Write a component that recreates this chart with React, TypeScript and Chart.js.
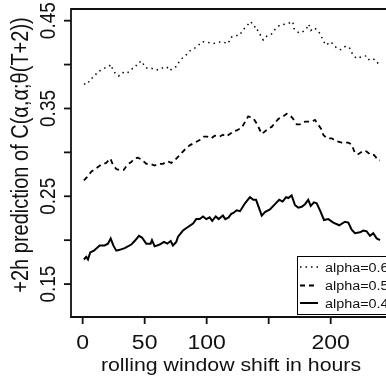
import React, { useEffect, useRef } from "react";
import { Chart, registerables } from "chart.js";

Chart.register(...registerables);

// Rolling predictions, alpha = 0.6 (dotted)
const dotHours = [1.0, 4.3, 5.6, 9.1, 12.3, 15.6, 19.0, 21.0, 23.1, 24.4, 27.1, 29.0, 31.9, 35.7, 39.2, 41.9, 44.6, 47.8, 49.2, 51.0, 55.3, 58.1, 61.5, 65.3, 68.0, 70.2, 72.8, 76.0, 77.7, 80.1, 83.5, 86.8, 90.6, 94.0, 96.0, 98.6, 101.9, 105.3, 108.5, 111.5, 114.8, 117.4, 119.4, 123.6, 126.3, 129.0, 132.3, 135.5, 138.1, 140.3, 141.6, 143.8, 145.6, 148.9, 152.4, 155.6, 159.1, 163.1, 166.1, 169.4, 170.4, 173.1, 176.0, 180.1, 182.3, 184.1, 186.5, 189.5, 191.9, 194.0, 196.2, 200.0, 202.7, 205.3, 208.3, 212.1, 216.1, 217.7, 221.0, 225.0, 229.0, 231.1, 235.7, 239.5];
const dotValues = [0.378, 0.378, 0.383, 0.386, 0.392, 0.394, 0.397, 0.398, 0.4, 0.393, 0.389, 0.387, 0.391, 0.39, 0.395, 0.396, 0.402, 0.404, 0.4, 0.396, 0.396, 0.394, 0.394, 0.397, 0.397, 0.393, 0.396, 0.398, 0.403, 0.407, 0.411, 0.416, 0.419, 0.423, 0.426, 0.426, 0.425, 0.424, 0.425, 0.426, 0.425, 0.424, 0.431, 0.433, 0.433, 0.439, 0.444, 0.449, 0.443, 0.443, 0.436, 0.433, 0.428, 0.433, 0.435, 0.441, 0.445, 0.446, 0.447, 0.449, 0.441, 0.437, 0.436, 0.44, 0.446, 0.439, 0.442, 0.439, 0.434, 0.427, 0.422, 0.426, 0.422, 0.418, 0.417, 0.421, 0.418, 0.411, 0.407, 0.409, 0.41, 0.405, 0.406, 0.399];

// Rolling predictions, alpha = 0.5 (dashed)
const dashHours = [1.0, 4.3, 6.9, 11.0, 15.0, 19.0, 22.3, 24.4, 27.1, 29.8, 33.1, 36.0, 39.2, 41.9, 44.6, 47.3, 51.3, 54.0, 58.1, 60.7, 64.8, 68.2, 71.5, 74.2, 76.9, 79.5, 82.3, 86.3, 90.3, 94.4, 97.8, 100.5, 103.7, 106.5, 110.5, 113.1, 115.8, 119.8, 121.5, 124.2, 128.2, 132.3, 133.5, 137.6, 140.3, 144.4, 149.7, 152.4, 157.7, 161.8, 164.5, 167.2, 169.3, 172.6, 175.2, 179.3, 181.9, 184.7, 187.3, 189.2, 192.7, 194.0, 196.8, 200.8, 204.3, 208.9, 214.2, 216.9, 219.6, 222.3, 226.3, 229.0, 232.3, 234.9, 238.4, 239.8];
const dashValues = [0.268, 0.273, 0.278, 0.282, 0.286, 0.288, 0.293, 0.286, 0.281, 0.28, 0.28, 0.286, 0.289, 0.293, 0.294, 0.292, 0.287, 0.287, 0.285, 0.287, 0.287, 0.29, 0.288, 0.291, 0.295, 0.299, 0.303, 0.308, 0.311, 0.314, 0.318, 0.318, 0.316, 0.319, 0.318, 0.32, 0.318, 0.322, 0.324, 0.325, 0.328, 0.338, 0.341, 0.339, 0.333, 0.321, 0.327, 0.329, 0.338, 0.341, 0.344, 0.342, 0.339, 0.332, 0.332, 0.335, 0.335, 0.335, 0.337, 0.333, 0.326, 0.32, 0.316, 0.316, 0.313, 0.311, 0.311, 0.309, 0.299, 0.298, 0.302, 0.301, 0.297, 0.297, 0.291, 0.291];

// Rolling predictions, alpha = 0.4 (solid)
const solidHours = [1.0, 2.9, 4.3, 6.1, 9.1, 13.7, 17.7, 20.4, 22.6, 24.7, 27.1, 29.8, 33.9, 39.2, 41.9, 45.4, 47.8, 51.3, 54.8, 55.9, 58.1, 62.1, 65.6, 68.2, 71.0, 72.8, 75.5, 76.9, 80.9, 84.9, 89.0, 91.6, 94.4, 97.0, 99.7, 102.4, 104.5, 107.3, 109.7, 113.1, 115.0, 117.7, 119.8, 121.5, 124.2, 126.9, 130.9, 134.9, 137.6, 139.8, 141.6, 144.4, 147.0, 151.0, 155.1, 158.5, 161.3, 164.0, 165.8, 168.5, 171.2, 173.9, 176.6, 179.3, 181.9, 183.9, 186.5, 188.7, 191.4, 194.6, 198.1, 202.1, 206.9, 211.5, 214.2, 216.9, 219.6, 223.6, 226.3, 229.0, 231.7, 234.3, 237.1, 239.8];
const solidValues = [0.178, 0.181, 0.178, 0.186, 0.188, 0.194, 0.194, 0.196, 0.202, 0.194, 0.188, 0.189, 0.191, 0.195, 0.199, 0.205, 0.203, 0.196, 0.196, 0.2, 0.193, 0.195, 0.198, 0.196, 0.199, 0.194, 0.198, 0.204, 0.211, 0.215, 0.219, 0.224, 0.224, 0.227, 0.224, 0.226, 0.222, 0.227, 0.224, 0.228, 0.224, 0.226, 0.23, 0.231, 0.234, 0.233, 0.242, 0.249, 0.246, 0.246, 0.239, 0.228, 0.232, 0.235, 0.241, 0.246, 0.244, 0.249, 0.248, 0.251, 0.24, 0.237, 0.238, 0.241, 0.246, 0.239, 0.243, 0.242, 0.234, 0.223, 0.224, 0.22, 0.217, 0.221, 0.22, 0.212, 0.208, 0.209, 0.211, 0.21, 0.205, 0.208, 0.202, 0.2];

const xTicks = [0, 50, 100, 150, 200];
const xTickLabels = ["0", "50", "100", "", "200"];
const yTicks = [0.15, 0.2, 0.25, 0.3, 0.35, 0.4, 0.45];
const yTickLabels = ["0.15", "", "0.25", "", "0.35", "", "0.45"];

const seriesLabels = ["alpha=0.6", "alpha=0.5", "alpha=0.4"];

const FONT = '"Liberation Sans", Arial, Helvetica, sans-serif';
const STRETCH = 1.15;
const INK = "#111";

function toPoints(xs: number[], ys: number[]) {
  return xs.map((x, i) => ({ x, y: ys[i] }));
}

// Axes, frame and legend drawn in base-graphics style
const frameAndAxes = {
  id: "frameAndAxes",
  afterDraw(chart: any) {
    const { ctx, chartArea, scales } = chart;
    const { left, top, right, bottom } = chartArea;
    const xs = scales.x;
    const ys = scales.y;
    ctx.save();
    ctx.strokeStyle = INK;
    ctx.fillStyle = INK;
    ctx.lineWidth = 1.8;
    ctx.setLineDash([]);

    // frame
    ctx.beginPath();
    ctx.moveTo(right + 5, top);
    ctx.lineTo(left, top);
    ctx.lineTo(left, bottom);
    ctx.lineTo(right + 5, bottom);
    ctx.stroke();

    // y ticks and labels
    yTicks.forEach((v, i) => {
      const py = ys.getPixelForValue(v);
      ctx.beginPath();
      ctx.moveTo(left, py);
      ctx.lineTo(left - 7, py);
      ctx.stroke();
      const lab = yTickLabels[i];
      if (lab) {
        ctx.save();
        ctx.translate(left - 16, py);
        ctx.scale(STRETCH, 1);
        ctx.rotate(-Math.PI / 2);
        ctx.font = `19px ${FONT}`;
        ctx.textAlign = "center";
        ctx.textBaseline = "alphabetic";
        ctx.fillText(lab, 0, 0);
        ctx.restore();
      }
    });

    // x ticks and labels
    xTicks.forEach((v, i) => {
      const px = xs.getPixelForValue(v);
      ctx.beginPath();
      ctx.moveTo(px, bottom);
      ctx.lineTo(px, bottom + 7);
      ctx.stroke();
      const lab = xTickLabels[i];
      if (lab) {
        ctx.save();
        ctx.translate(px, bottom + 32);
        ctx.scale(STRETCH, 1);
        ctx.font = `20px ${FONT}`;
        ctx.textAlign = "center";
        ctx.textBaseline = "alphabetic";
        ctx.fillText(lab, 0, 0);
        ctx.restore();
      }
    });

    // x title
    ctx.save();
    ctx.translate(231, 371);
    ctx.scale(STRETCH, 1);
    ctx.font = `18.5px ${FONT}`;
    ctx.textAlign = "center";
    ctx.fillText("rolling window shift in hours", 0, 0);
    ctx.restore();

    // y title
    ctx.save();
    ctx.translate(28, 155);
    ctx.scale(STRETCH, 1);
    ctx.rotate(-Math.PI / 2);
    ctx.font = `20px ${FONT}`;
    ctx.textAlign = "center";
    ctx.fillText("+2h prediction of C(\u03b1,\u03b1;\u03b8(T+2))", 0, 0);
    ctx.restore();

    // legend
    const lx = 297;
    const ly = 256;
    ctx.lineWidth = 1;
    ctx.strokeStyle = "#000";
    ctx.strokeRect(lx + 0.5, ly + 0.5, 120, 58);
    const rows = [267, 285.5, 303];
    const dashes = [[1.5, 4], [5, 4], []];
    const widths = [1.5, 1.8, 2];
    rows.forEach((ry, i) => {
      ctx.save();
      ctx.lineWidth = widths[i];
      ctx.setLineDash(dashes[i]);
      ctx.beginPath();
      ctx.moveTo(300, ry);
      ctx.lineTo(318, ry);
      ctx.stroke();
      ctx.restore();
      ctx.save();
      ctx.translate(325, ry + 4.5);
      ctx.scale(STRETCH, 1);
      ctx.font = `12.5px ${FONT}`;
      ctx.textAlign = "left";
      ctx.fillText(seriesLabels[i], 0, 0);
      ctx.restore();
    });
    ctx.restore();
  },
};

export default function App() {
  const canvasRef = useRef<HTMLCanvasElement | null>(null);

  useEffect(() => {
    document.body.style.margin = "0";
    const canvas = canvasRef.current;
    if (!canvas) return;
    const chart = new Chart(canvas, {
      type: "line",
      data: {
        datasets: [
          {
            label: seriesLabels[0],
            data: toPoints(dotHours, dotValues),
            borderColor: "#000",
            borderWidth: 1.5,
            borderDash: [1.5, 4],
            pointRadius: 0,
            tension: 0,
          },
          {
            label: seriesLabels[1],
            data: toPoints(dashHours, dashValues),
            borderColor: "#000",
            borderWidth: 1.8,
            borderDash: [5, 4],
            pointRadius: 0,
            tension: 0,
          },
          {
            label: seriesLabels[2],
            data: toPoints(solidHours, solidValues),
            borderColor: "#000",
            borderWidth: 2,
            pointRadius: 0,
            tension: 0,
          },
        ],
      },
      options: {
        responsive: false,
        animation: false,
        devicePixelRatio: 1,
        layout: { padding: { left: 71, top: 9, right: 0, bottom: 68 } },
        plugins: { legend: { display: false }, tooltip: { enabled: false } },
        scales: {
          x: { type: "linear", min: -9.4, max: 244.6, display: false },
          y: { type: "linear", min: 0.1125, max: 0.4633, display: false },
        },
      },
      plugins: [frameAndAxes],
    });
    return () => chart.destroy();
  }, []);

  return (
    <div style={{ position: "absolute", left: 0, top: 0, width: 386, height: 385, background: "#fff" }}>
      <canvas ref={canvasRef} width={386} height={385} />
    </div>
  );
}
